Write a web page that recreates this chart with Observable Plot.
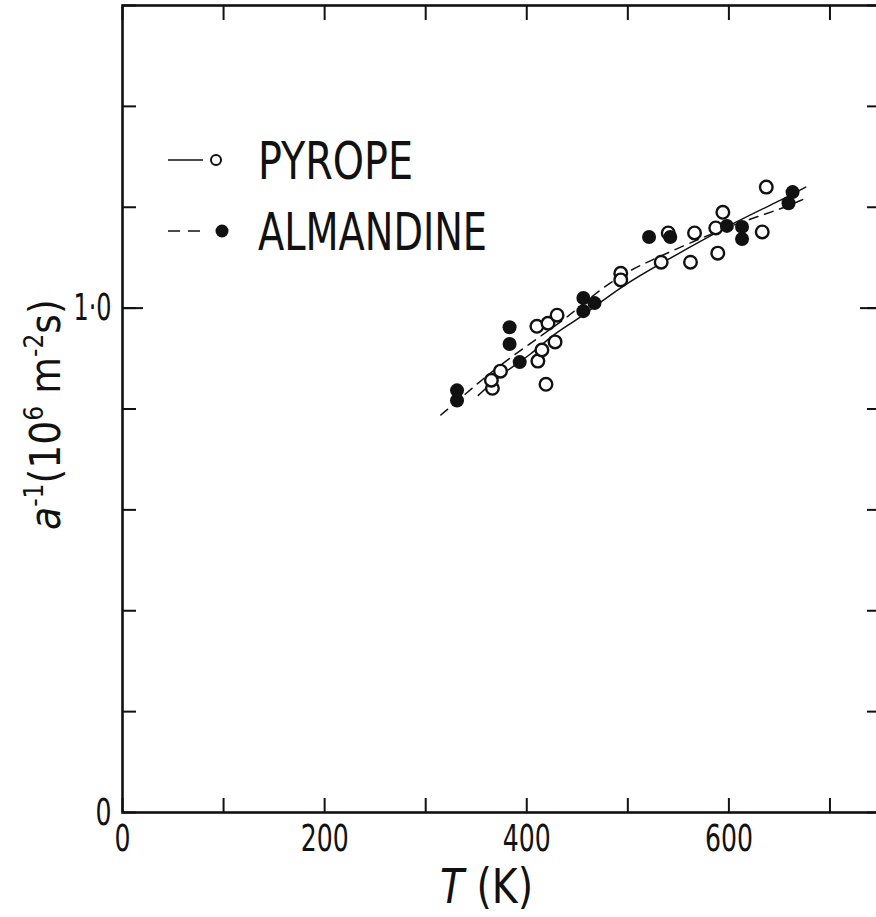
<!DOCTYPE html>
<html><head><meta charset="utf-8">
<script src="https://cdn.jsdelivr.net/npm/d3@7"></script>
<script src="https://cdn.jsdelivr.net/npm/@observablehq/plot@0.6"></script>
<style>
html,body{margin:0;padding:0;background:#fff;overflow:hidden}
#chart svg{display:block}
</style></head><body><div id="chart"></div>
<script>
// ---- data ----
const xTicks = [0, 100, 200, 300, 400, 500, 600, 700];
const xTickLabels = [0, 200, 400, 600];
const yTicks = [0, 0.2, 0.4, 0.6, 0.8, 1.0, 1.2, 1.4, 1.6];
const yMajorTicks = [1.0];
const yTickLabels = [0, 1];
const yTickText = ["0", "1·0"];

const pyropeT = [366, 365, 374, 410, 421, 430, 411, 415, 428, 419, 493, 493, 540, 533, 562, 566, 589, 587, 594, 633, 637];
const pyropeV = [0.841, 0.857, 0.875, 0.964, 0.970, 0.986, 0.895, 0.917, 0.933, 0.849, 1.069, 1.056, 1.149, 1.091, 1.091, 1.149, 1.109, 1.159, 1.190, 1.151, 1.240];
const almT = [331, 331, 383, 383, 393, 456, 456, 467, 521, 542, 598, 613, 613, 659, 663];
const almV = [0.837, 0.817, 0.962, 0.929, 0.893, 1.020, 0.994, 1.010, 1.141, 1.141, 1.163, 1.161, 1.137, 1.208, 1.230];

const pyropeFitT = [352, 377, 404, 427, 453, 493, 549, 612, 654, 676];
const pyropeFitV = [0.827, 0.873, 0.907, 0.950, 0.980, 1.044, 1.107, 1.177, 1.216, 1.240];
const almFitT = [315, 340, 361, 391, 441, 468, 496, 523, 577, 615, 648, 674];
const almFitV = [0.788, 0.831, 0.867, 0.913, 0.982, 1.030, 1.069, 1.095, 1.143, 1.173, 1.194, 1.216];

const seriesNames = ["PYROPE", "ALMANDINE"];

// ---- tables ----
const pyrope = pyropeT.map((t, i) => ({T: t, v: pyropeV[i]}));
const alm = almT.map((t, i) => ({T: t, v: almV[i]}));
const pyropeFit = pyropeFitT.map((t, i) => ({T: t, v: pyropeFitV[i]}));
const almFit = almFitT.map((t, i) => ({T: t, v: almFitV[i]}));

const FONT = '"DejaVu Sans Condensed", "DejaVu Sans", sans-serif';
const tickLen = -14;
const majorLen = -21;

const plot = Plot.plot({
  width: 876,
  height: 917,
  marginLeft: 122,
  marginTop: 5,
  marginBottom: 105,
  marginRight: -4,
  style: {fontFamily: FONT, fontSize: "38px", color: "#111", background: "#fff"},
  x: {domain: [0, 750], label: null},
  y: {domain: [0, 1.6], label: null},
  marks: [
    Plot.frame({stroke: "#111", strokeWidth: 2.6}),
    Plot.axisX({anchor: "bottom", ticks: xTicks, tickSize: tickLen, strokeWidth: 2, tickFormat: () => "", label: null}),
    Plot.axisX({anchor: "top", ticks: xTicks, tickSize: tickLen, strokeWidth: 2, tickFormat: () => "", label: null}),
    Plot.axisY({anchor: "left", ticks: yTicks, tickSize: tickLen, strokeWidth: 2, tickFormat: () => "", label: null}),
    Plot.axisY({anchor: "right", ticks: yTicks, tickSize: tickLen, strokeWidth: 2, tickFormat: () => "", label: null}),
    Plot.axisY({anchor: "left", ticks: yMajorTicks, tickSize: majorLen, strokeWidth: 2, tickFormat: () => "", label: null}),
    Plot.axisY({anchor: "right", ticks: yMajorTicks, tickSize: majorLen, strokeWidth: 2, tickFormat: () => "", label: null}),
    Plot.axisX({anchor: "bottom", ticks: xTickLabels, tickSize: 0, tickPadding: 12, label: null, fontSize: 38}),
    Plot.axisY({anchor: "left", ticks: yTickLabels, tickSize: 0, tickPadding: 11, label: null, fontSize: 38,
      tickFormat: d => yTickText[yTickLabels.indexOf(d)]}),
    Plot.line(pyropeFit, {x: "T", y: "v", curve: "basis", stroke: "#111", strokeWidth: 1.5}),
    Plot.line(almFit, {x: "T", y: "v", curve: "basis", stroke: "#111", strokeWidth: 1.5, strokeDasharray: "9,7"}),
    Plot.dot(pyrope, {x: "T", y: "v", r: 6.3, stroke: "#111", strokeWidth: 2.4, fill: "#fff"}),
    Plot.dot(alm, {x: "T", y: "v", r: 7, fill: "#111", stroke: "none"})
  ]
});
document.getElementById("chart").appendChild(plot);

const svg = d3.select(plot);

// narrow the tick labels (narrow DIN-like lettering in the original)
svg.selectAll('g[aria-label$="tick label"] text').each(function() {
  const s = this.textContent;
  if (s && s.length) {
    const w = s === "1·0" ? 38 : s.length * 16;
    d3.select(this).attr("textLength", w).attr("lengthAdjust", "spacingAndGlyphs");
  }
});

// ---- titles & legend ----
const g = svg.append("g").attr("font-family", FONT).attr("fill", "#111").attr("text-anchor", "start");

// x label: T (K)
const xl = g.append("text").attr("x", 440).attr("y", 903).attr("font-size", 48)
  .attr("textLength", 93).attr("lengthAdjust", "spacingAndGlyphs");
xl.append("tspan").attr("font-style", "italic").text("T");
xl.append("tspan").text(" (K)");

// y label: a^-1 (10^6 m^-2 s)
const yl = g.append("text").attr("transform", "translate(60,530) rotate(-90)").attr("font-size", 42);
yl.append("tspan").attr("font-style", "italic").text("a");
yl.append("tspan").attr("font-size", 26).attr("dy", -17).text("-1");
yl.append("tspan").attr("dy", 17).text("(10");
yl.append("tspan").attr("font-size", 26).attr("dy", -17).text("6");
yl.append("tspan").attr("dy", 17).text(" m");
yl.append("tspan").attr("font-size", 26).attr("dy", -17).text("-2");
yl.append("tspan").attr("dy", 17).text("s)");

// legend
const lg = g.append("g");
lg.append("line").attr("x1", 168).attr("x2", 203).attr("y1", 160).attr("y2", 160).attr("stroke", "#111").attr("stroke-width", 1.5);
lg.append("circle").attr("cx", 216).attr("cy", 160).attr("r", 5).attr("fill", "#fff").attr("stroke", "#111").attr("stroke-width", 2);
lg.append("text").attr("x", 258).attr("y", 179).attr("font-size", 51)
  .attr("textLength", 155).attr("lengthAdjust", "spacingAndGlyphs").text(seriesNames[0]);
lg.append("line").attr("x1", 168).attr("x2", 206).attr("y1", 231).attr("y2", 231).attr("stroke", "#111").attr("stroke-width", 1.5).attr("stroke-dasharray", "12,8");
lg.append("circle").attr("cx", 222).attr("cy", 231).attr("r", 6.5).attr("fill", "#111");
lg.append("text").attr("x", 258).attr("y", 250).attr("font-size", 51)
  .attr("textLength", 229).attr("lengthAdjust", "spacingAndGlyphs").text(seriesNames[1]);
</script>
</body></html>
